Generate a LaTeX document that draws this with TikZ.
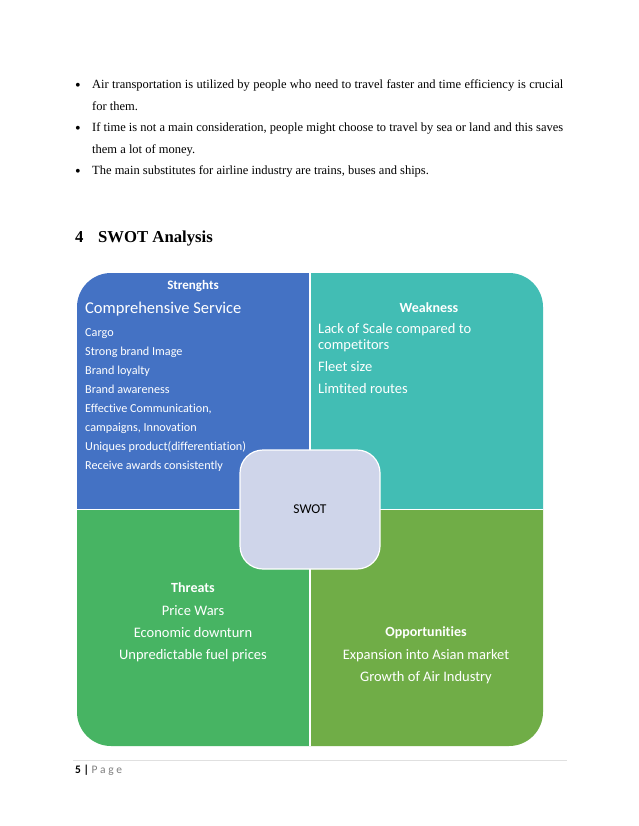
\documentclass[tikz,border=0pt]{standalone}
\usepackage{fontspec}
\setmainfont{Liberation Serif}
\newfontfamily\calibri[Ligatures=NoCommon]{Carlito}
\usetikzlibrary{positioning}

\definecolor{swotblue}{RGB}{68,114,196}
\definecolor{swotteal}{RGB}{66,189,180}
\definecolor{swotgreen}{RGB}{71,180,99}
\definecolor{swotolive}{RGB}{112,173,71}
\definecolor{swotcore}{RGB}{207,213,234}
\definecolor{footgray}{RGB}{127,127,127}

\tikzset{
  body/.style={font=\fontsize{12.5}{15}\selectfont, inner sep=0pt, anchor=mid west},
  head/.style={font=\bfseries\fontsize{16.7}{20}\selectfont, inner sep=0pt, anchor=mid west},
  qhead/.style={font=\calibri\bfseries\fontsize{14}{16}\selectfont, text=white, inner sep=0pt, anchor=mid},
  qitem/.style={font=\calibri\fontsize{14.5}{16}\selectfont, text=white, inner sep=0pt},
  sitem/.style={font=\calibri\fontsize{12.2}{14}\selectfont, text=white, inner sep=0pt, anchor=mid west},
  core/.style={fill=swotcore, draw=white, line width=1.2pt, rounded corners=23pt,
    minimum width=140pt, minimum height=119pt, font=\calibri\fontsize{13.5}{16}\selectfont},
}

\begin{document}
\begin{tikzpicture}[x=1pt,y=-1pt]
    \useasboundingbox[fill=white] (0,0) rectangle (638,826);

    % Elenco puntato
    \node[body] (b1) at (92,86.5) {\makebox[471pt][s]{Air transportation is utilized by people who need to travel faster and time efficiency is crucial}};
    \node[body] (b1b) at (92,108) {for them.};
    \node[body] (b2) at (92,129.5) {\makebox[471pt][s]{If time is not a main consideration, people might choose to travel by sea or land and this saves}};
    \node[body] (b2b) at (92,151) {them a lot of money.};
    \node[body] (b3) at (92,172.5) {The main substitutes for airline industry are trains, buses and ships.};
    \foreach \b in {b1,b2,b3}
        \node[body, anchor=center, font=\fontsize{16}{16}\selectfont] (dot\b) at (78,0 |- \b.mid) {\textbullet};

    % Titolo
    \node[head] (num) at (75,240.5) {4};
    \node[head] (title) at (98,240.5) {SWOT Analysis};

    % Quadranti
    \begin{scope}
        \clip[rounded corners=34pt] (77,273) -- (543,273) -- (543,746) -- (77,746) -- cycle;
        \fill[swotblue] (70,265) rectangle (310,509.5);
        \fill[swotteal] (310,265) rectangle (550,509.5);
        \fill[swotgreen] (70,509.5) rectangle (310,755);
        \fill[swotolive] (310,509.5) rectangle (550,755);
    \end{scope}
    \draw[white, line width=1.5pt] (310,273) -- (310,746);
    \draw[white, line width=1.5pt] (77,509.5) -- (543,509.5);

    % Riquadro centrale
    \node[core] (swot) at (310,509.5) {SWOT};

    % Strenghts
    \node[qhead, font=\calibri\bfseries\fontsize{13}{15}\selectfont] (sh) at (193,287) {Strenghts};
    \node[qitem, anchor=mid west, font=\calibri\fontsize{16.5}{18}\selectfont] (s0) at (85,311.5) {Comprehensive Service};
    \foreach \t [count=\i] in {Cargo, Strong brand Image, Brand loyalty, Brand awareness,
        {Effective Communication,}, {campaigns, Innovation}, Uniques product(differentiation),
        Receive awards consistently}
        \node[sitem] (s\i) at (85,315+19*\i) {\t};

    % Weakness
    \node[qhead] (wh) at (429,310) {Weakness};
    \node[qitem, anchor=mid west] (w1) at (318,331) {Lack of Scale compared to};
    \node[qitem, anchor=mid west] (w1b) at (318,347) {competitors};
    \node[qitem, anchor=mid west] (w2) at (318,369) {Fleet size};
    \node[qitem, anchor=mid west] (w3) at (318,391) {Limtited routes};

    % Threats
    \node[qhead] (th) at (193,590) {Threats};
    \node[qitem, anchor=mid] (t1) at (193,613) {Price Wars};
    \node[qitem, anchor=mid] (t2) at (193,635) {Economic downturn};
    \node[qitem, anchor=mid] (t3) at (193,657) {Unpredictable fuel prices};

    % Opportunities
    \node[qhead] (oh) at (426,634) {Opportunities};
    \node[qitem, anchor=mid] (o1) at (426,657) {Expansion into Asian market};
    \node[qitem, anchor=mid] (o2) at (426,679) {Growth of Air Industry};

    % Piè di pagina
    \coordinate (fl) at (73,760);
    \coordinate (fr) at (567,760);
    \draw[black!12, line width=0.8pt] (fl) -- (fr);
    \node[body, font=\calibri\fontsize{11.5}{14}\selectfont] (page) at (75,771)
        {\textbf{5 |} \textcolor{footgray}{P a g e}};
\end{tikzpicture}
\end{document}
